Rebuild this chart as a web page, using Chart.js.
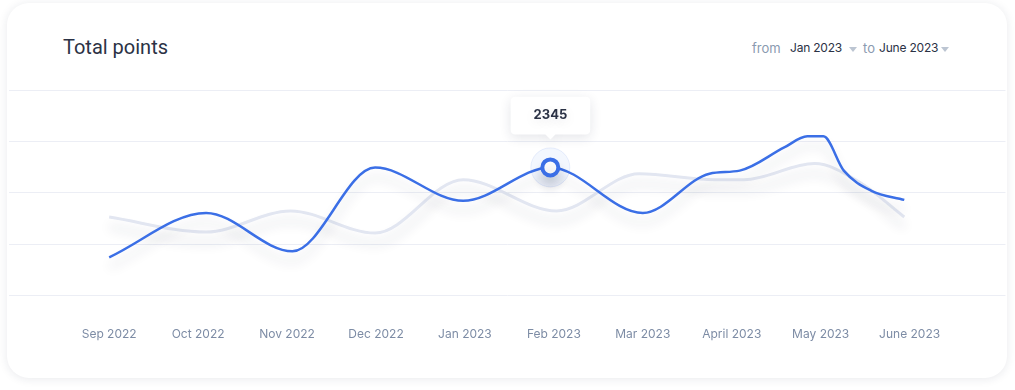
<!DOCTYPE html>
<html>
<head>
<meta charset="utf-8">
<script src="https://cdn.jsdelivr.net/npm/chart.js@4.4.1/dist/chart.umd.min.js"></script>
<style>
  html, body { margin: 0; padding: 0; background: #ffffff; width: 1015px; height: 390px; overflow: hidden; }
  #card { position: absolute; left: 7px; top: 3px; width: 1000px; height: 375px; background: #fff;
          border-radius: 22px; box-shadow: 0 1px 10px rgba(30, 40, 70, 0.10); }
  #title { position: absolute; left: 56px; top: 34px; font-family: Roboto, sans-serif; font-size: 20px;
           line-height: 20px; color: #2b3245; white-space: nowrap; }
  .f { position: absolute; top: 37px; font-family: Inter, sans-serif; line-height: 16px; white-space: nowrap; }
  .lbl { font-size: 13px; color: #8a9ab0; }
  .val { font-size: 12px; color: #2b3245; letter-spacing: -0.2px; }
  .tri { position: absolute; top: 44px; width: 0; height: 0; border-left: 4px solid transparent;
         border-right: 4px solid transparent; border-top: 5px solid #bcc5d2; }
  #wrap { position: absolute; left: 0; top: 77px; width: 1000px; height: 300px; }
</style>
</head>
<body>
<div id="card">
  <div id="title">Total points</div>
  <span class="f lbl" style="left:745px">from</span>
  <span class="f val" style="left:783px">Jan 2023</span>
  <span class="tri" style="left:842px"></span>
  <span class="f lbl" style="left:856px">to</span>
  <span class="f val" style="left:872px">June 2023</span>
  <span class="tri" style="left:934px"></span>
  <div id="wrap"><canvas id="c" width="1000" height="300"></canvas></div>
</div>
<script>
// Month labels (x ticks at 0..9)
const months = ["Sep 2022", "Oct 2022", "Nov 2022", "Dec 2022", "Jan 2023", "Feb 2023", "Mar 2023", "April 2023", "May 2023", "June 2023"];

// Current series (blue): x in months from Sep 2022, y in points
const currentX = [0, 1.09, 2.06, 2.99, 3.98, 4.96, 6.00, 6.75, 7.09, 7.59, 7.85, 8.03, 8.26, 8.57, 8.94];
const currentY = [771, 1547, 876, 2341, 1759, 2345, 1547, 2235, 2288, 2694, 2888, 2888, 2288, 1935, 1776];

// Previous series (grey)
const previousX = [0, 1.09, 2.04, 2.99, 3.98, 5.03, 5.96, 6.81, 7.14, 7.93, 8.43, 8.94];
const previousY = [1476, 1212, 1582, 1194, 2129, 1582, 2235, 2129, 2129, 2412, 2094, 1476];

const activeIndex = 5; // Feb 2023 highlighted point

const toPoints = (xs, ys) => xs.map((x, i) => ({ x: x, y: ys[i] }));

const shadowPlugin = {
  id: 'lineShadow',
  beforeDatasetDraw(chart) {
    const ctx = chart.ctx;
    ctx.save();
    ctx.shadowColor = 'rgba(30, 40, 70, 0.16)';
    ctx.shadowBlur = 12;
    ctx.shadowOffsetY = 10;
  },
  afterDatasetDraw(chart) { chart.ctx.restore(); },
  beforeDatasetsDraw(chart) {
    const el = chart.getDatasetMeta(0).data[activeIndex];
    if (!el) return;
    const ctx = chart.ctx;
    ctx.save();
    ctx.beginPath();
    ctx.arc(el.x, el.y, 19.5, 0, Math.PI * 2);
    ctx.fillStyle = 'rgba(59, 111, 230, 0.06)';
    ctx.fill();
    ctx.lineWidth = 1;
    ctx.strokeStyle = 'rgba(59, 111, 230, 0.10)';
    ctx.stroke();
    ctx.restore();
  },
  beforeTooltipDraw(chart) {
    const ctx = chart.ctx;
    ctx.save();
    ctx.shadowColor = 'rgba(30, 40, 70, 0.12)';
    ctx.shadowBlur = 12;
    ctx.shadowOffsetY = 3;
  },
  afterTooltipDraw(chart) { chart.ctx.restore(); }
};

const radii = currentX.map((_, i) => i === activeIndex ? 8 : 0);

const chart = new Chart(document.getElementById('c'), {
  type: 'line',
  data: {
    datasets: [
      {
        data: toPoints(currentX, currentY),
        borderColor: '#3b6fe6',
        borderWidth: 2.5,
        cubicInterpolationMode: 'monotone',
        pointRadius: radii,
        pointHoverRadius: radii,
        pointBackgroundColor: '#ffffff',
        pointHoverBackgroundColor: '#ffffff',
        pointBorderColor: '#3b6fe6',
        pointHoverBorderColor: '#3b6fe6',
        pointBorderWidth: 4,
        pointHoverBorderWidth: 4,
        fill: false
      },
      {
        data: toPoints(previousX, previousY),
        borderColor: '#e2e6f1',
        borderWidth: 3,
        cubicInterpolationMode: 'monotone',
        pointRadius: 0,
        pointHoverRadius: 0,
        fill: false
      }
    ]
  },
  options: {
    responsive: false,
    animation: false,
    events: [],
    layout: { padding: { top: 10, bottom: 6, left: 0, right: 0 } },
    scales: {
      x: {
        type: 'linear',
        min: -1.132,
        max: 10.078,
        afterBuildTicks(axis) { axis.ticks = months.map((m, i) => ({ value: i })); },
        grid: { display: false, drawTicks: false },
        border: { display: false },
        ticks: {
          padding: 32,
          autoSkip: false,
          maxRotation: 0,
          color: '#7d8ca5',
          font: { family: 'Inter', size: 12 },
          callback: (v) => months[v]
        }
      },
      y: {
        min: 100,
        max: 3700,
        ticks: { display: false, stepSize: 900 },
        grid: { color: '#eceef5', lineWidth: 1, drawTicks: false },
        border: { display: false }
      }
    },
    plugins: {
      legend: { display: false },
      tooltip: {
        enabled: true,
        filter: (item) => item.datasetIndex === 0,
        backgroundColor: '#ffffff',
        bodyColor: '#2b3245',
        bodyFont: { family: 'Inter', size: 13, weight: 'bold' },
        displayColors: false,
        padding: { top: 11, bottom: 11, left: 23, right: 23 },
        cornerRadius: 5,
        caretSize: 5,
        caretPadding: 28,
        xAlign: 'center',
        yAlign: 'bottom',
        callbacks: {
          title: () => [],
          label: (ctx) => String(ctx.parsed.y)
        }
      }
    }
  },
  plugins: [shadowPlugin]
});

const el = chart.getDatasetMeta(0).data[activeIndex];
chart.setActiveElements([{ datasetIndex: 0, index: activeIndex }]);
chart.tooltip.setActiveElements([{ datasetIndex: 0, index: activeIndex }], { x: el.x, y: el.y });
chart.update();
</script>
</body>
</html>
